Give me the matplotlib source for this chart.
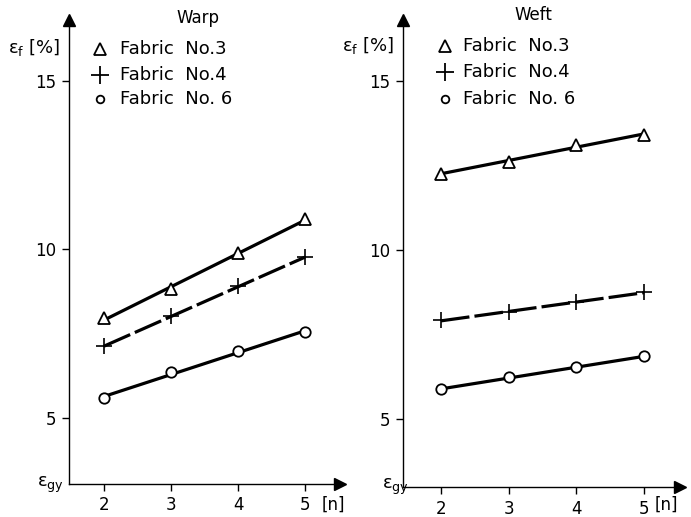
import matplotlib
matplotlib.use("Agg")
import matplotlib.pyplot as plt
import numpy as np

plt.rcParams['font.family'] = ['DejaVu Sans']
plt.rcParams['mathtext.fontset'] = 'dejavusans'

# number of plies n and failure strain (%) per fabric
n = [2, 3, 4, 5]
warp_f3 = [7.95, 8.81, 9.88, 10.89]
warp_f4 = [7.12, 8.01, 8.90, 9.76]
warp_f6 = [5.58, 6.35, 6.97, 7.54]
weft_f3 = [12.26, 12.61, 13.09, 13.41]
weft_f4 = [7.92, 8.16, 8.45, 8.75]
weft_f6 = [5.88, 6.23, 6.53, 6.85]

fabric_labels = ["Fabric  No.3", "Fabric  No.4", "Fabric  No. 6"]
y_ticks = [5, 10, 15]
x_ticks = [2, 3, 4, 5]

W, H = 691, 517
fig = plt.figure(figsize=(W / 100, H / 100), dpi=100)


def px_axes(x0, x1, y_top, y_bot):
    return fig.add_axes([x0 / W, (H - y_bot) / H, (x1 - x0) / W, (y_bot - y_top) / H])


def fit_line(ax, y, **kw):
    k, b = np.polyfit(n, y, 1)
    xs = np.array([n[0], n[-1]], dtype=float)
    ax.plot(xs, k * xs + b, color="black", lw=2.3, solid_capstyle="butt", **kw)


def draw_panel(ax, xlim, ylim, s3, s4, s6):
    ax.set_xlim(*xlim)
    ax.set_ylim(*ylim)
    for side in ("top", "right"):
        ax.spines[side].set_visible(False)
    for side in ("left", "bottom"):
        ax.spines[side].set_linewidth(1.0)
    ax.set_xticks(x_ticks)
    ax.set_yticks(y_ticks)
    ax.tick_params(direction="out", length=5, width=1.0, labelsize=12, pad=4)
    ax.patch.set_alpha(0)

    # arrow heads at the axis ends
    ax.plot([xlim[0]], [ylim[1]], marker="^", color="black", markersize=9, clip_on=False)
    ax.plot([xlim[1]], [ylim[0]], marker=">", color="black", markersize=9, clip_on=False)

    fit_line(ax, s3)
    fit_line(ax, s4, dashes=(9, 1.6))
    fit_line(ax, s6)
    ax.plot(n, s3, linestyle="none", marker="^", markersize=8.5,
            markerfacecolor="white", markeredgecolor="black", markeredgewidth=1.3)
    ax.plot(n, s4, linestyle="none", marker="+", markersize=12,
            markeredgewidth=1.2, markeredgecolor="black")
    ax.plot(n, s6, linestyle="none", marker="o", markersize=7.5,
            markerfacecolor="white", markeredgecolor="black", markeredgewidth=1.3)


axL = px_axes(69, 340, 20, 484)
draw_panel(axL, (1.48, 5.52), (3.04, 16.8), warp_f3, warp_f4, warp_f6)
axR = px_axes(403, 680, 20, 487)
draw_panel(axR, (1.44, 5.53), (2.99, 16.8), weft_f3, weft_f4, weft_f6)

# panel titles
fig.text(198 / W, 1 - 18 / H, "Warp", fontsize=12, ha="center", va="center")
fig.text(533 / W, 1 - 15 / H, "Weft", fontsize=12, ha="center", va="center")

# axis captions
for x_eps, y_eps, x_gy, y_gy, x_n in [(8, 47, 37, 485, 322), (342, 46, 382, 487, 655)]:
    fig.text(x_eps / W, 1 - y_eps / H, r"ε$_\mathregular{f}$ [%]", fontsize=13,
             ha="left", va="center")
    fig.text(x_gy / W, 1 - y_gy / H, r"ε$_\mathregular{gy}$", fontsize=13,
             ha="left", va="center")
    fig.text(x_n / W, 1 - 505 / H, "[n]", fontsize=12, ha="left", va="center")

# legends
markers = [dict(marker="^", markersize=9, markerfacecolor="white"),
           dict(marker="+", markersize=13),
           dict(marker="o", markersize=5.5, markerfacecolor="white")]
for mx, tx, rows in [(100, 120, (49, 75, 99)), (445, 463, (46, 72, 99))]:
    for lab, mk, ry in zip(fabric_labels, markers, rows):
        fig.lines.append(plt.Line2D([mx / W], [1 - ry / H], transform=fig.transFigure,
                                    linestyle="none", color="black",
                                    markeredgecolor="black", markeredgewidth=1.3, **mk))
        fig.text(tx / W, 1 - ry / H, lab, fontsize=13, ha="left", va="center")

fig.savefig("out.png", dpi=100)
